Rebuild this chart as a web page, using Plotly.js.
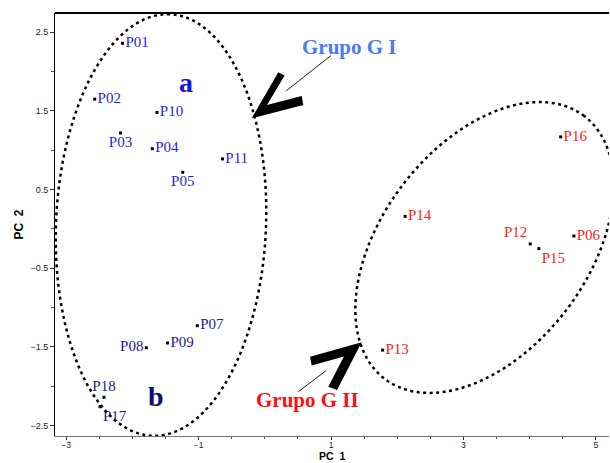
<!DOCTYPE html>
<html><head><meta charset="utf-8">
<script src="https://cdn.plot.ly/plotly-3.0.1.min.js"></script>
<style>html,body{margin:0;padding:0;background:#fff}</style>
</head><body><div id="chart" style="width:610px;height:463px"></div>
<script>
// ---- data ----
const labelsA = ['P01','P02','P10','P03','P04','P05','P11'];
const pc1A = [-2.15,-2.57,-1.63,-2.18,-1.70,-1.24,-0.64];
const pc2A = [2.36,1.65,1.48,1.22,1.02,0.72,0.89];
const labelsB = ['P07','P09','P08','P18','P17'];
const pc1B = [-1.02,-1.47,-1.79,-2.43,-2.49];
const pc2B = [-1.23,-1.45,-1.51,-2.14,-2.26];
const labelsII = ['P16','P14','P12','P15','P06','P13'];
const pc1II = [4.47,2.12,4.01,4.14,4.67,1.78];
const pc2II = [1.17,0.16,-0.19,-0.25,-0.09,-1.54];
const xTickVals = [-3,-1,1,3,5];
const xTickText = ['\u22123','\u22121','1','3','5'];
const yTickVals = [2.5,1.5,0.5,-0.5,-1.5,-2.5];
const yTickText = ['2.5','1.5','0.5','\u22120.5','\u22121.5','\u22122.5'];
const xTitle = 'PC\u00a0\u00a01', yTitle = 'PC\u00a0\u00a02';

// ---- styling ----
const labelPos = {P01:'middle right',P02:'middle right',P10:'middle right',P03:'bottom center',
  P04:'middle right',P05:'bottom center',P11:'middle right',P07:'middle right',P09:'middle right',
  P08:'middle left',P18:'top center',P17:'bottom right',P16:'middle right',P14:'middle right',
  P12:'top left',P15:'bottom right',P06:'middle right',P13:'middle right'};
const SERIF = 'Liberation Serif, Times New Roman, serif';
const SANS = 'Liberation Sans, Arial, sans-serif';
const PL=55, PT=13, PW=554, PH=423;
const xr=[-3.17,5.20], yr=[-2.632,2.745];
function p2d(px,py){ return [xr[0]+(px-PL)/PW*(xr[1]-xr[0]), yr[1]-(py-PT)/PH*(yr[1]-yr[0])]; }
function polyPath(pts, close){
  return pts.map((p,i)=>{const d=p2d(p[0],p[1]);return (i?'L':'M')+d[0].toFixed(4)+','+d[1].toFixed(4);}).join(' ')+(close?' Z':'');
}
function ellipsePath(cx,cy,a,b,th){
  const t0=th*Math.PI/180, pts=[];
  for(let i=0;i<=180;i++){const t=i/180*2*Math.PI;const ux=a*Math.cos(t),uy=b*Math.sin(t);
    pts.push([cx+ux*Math.cos(t0)-uy*Math.sin(t0), cy-(ux*Math.sin(t0)+uy*Math.cos(t0))]);}
  return polyPath(pts,true);
}
function trace(lbls,xs,ys,color){
  return {type:'scatter',mode:'markers+text',x:xs,y:ys,text:lbls,
    textposition:lbls.map(l=>labelPos[l]),
    marker:{symbol:'square',size:3,color:'#000'},
    textfont:{family:SERIF,size:15,color:color},cliponaxis:false,hoverinfo:'skip',showlegend:false};
}
const data=[trace(labelsA,pc1A,pc2A,'#1f1fe6'),trace(labelsB,pc1B,pc2B,'#22228c'),trace(labelsII,pc1II,pc2II,'#ff2020')];

const dotLine={color:'#000',width:2.5,dash:'3px,3.5px'};
const shapes=[
  {type:'path',xref:'x',yref:'y',path:ellipsePath(161,225,211,105,87.6),line:dotLine},
  {type:'path',xref:'x',yref:'y',path:ellipsePath(484.5,247.5,165,103,52.8),line:dotLine},
  {type:'path',xref:'x',yref:'y',path:polyPath([[251.7,118.3],[278.3,72.3],[284.6,75.5],[267,105],[301.7,96],[303.3,105]],true),fillcolor:'#000',line:{width:0}},
  {type:'path',xref:'x',yref:'y',path:polyPath([[361.7,342.3],[310,356.7],[311.7,365.5],[343.9,356.5],[328.3,386.7],[337,390]],true),fillcolor:'#000',line:{width:0}},
  {type:'path',xref:'x',yref:'y',path:polyPath([[286,91],[330.7,55.7]],false),line:{color:'#222',width:1}},
  {type:'path',xref:'x',yref:'y',path:polyPath([[326,370.7],[298.3,391.7]],false),line:{color:'#222',width:1}},
  {type:'line',xref:'paper',yref:'paper',x0:0,x1:1,y0:1,y1:1,line:{color:'#000',width:2}}
];
function ann(px,py,text,size,color){
  const d=p2d(px,py);
  return {x:d[0],y:d[1],xref:'x',yref:'y',text:text,showarrow:false,xanchor:'center',yanchor:'middle',
    font:{family:SERIF,size:size,color:color,weight:'bold'}};
}
const layout={
  width:610,height:463,margin:{l:PL,r:610-PL-PW,t:PT,b:463-PT-PH},
  paper_bgcolor:'#fff',plot_bgcolor:'#fff',showlegend:false,
  xaxis:{range:xr,showgrid:false,zeroline:false,showline:true,linecolor:'#777',linewidth:1,
    tickmode:'array',tickvals:xTickVals,ticktext:xTickText,ticks:'outside',ticklen:3,tickcolor:'#333',
    ticklabelstandoff:-2,
    minor:{tickmode:'linear',tick0:0,dtick:0.5,ticks:'outside',ticklen:2,tickcolor:'#555',showgrid:false},
    tickfont:{family:SANS,size:8.5,color:'#222'},automargin:false},
  yaxis:{range:yr,showgrid:false,zeroline:false,showline:true,linecolor:'#000',linewidth:1,
    tickmode:'array',tickvals:yTickVals,ticktext:yTickText,ticks:'outside',ticklen:4,tickcolor:'#333',
    minor:{tickmode:'linear',tick0:0,dtick:0.5,ticks:'outside',ticklen:3,tickcolor:'#555',showgrid:false},
    tickfont:{family:SANS,size:9,color:'#222'},
    title:{text:yTitle,font:{family:SANS,size:12,color:'#000',weight:'bold'},standoff:4},automargin:false},
  shapes:shapes,
  annotations:[
    {text:xTitle,xref:'paper',yref:'paper',x:0.5,y:-(463-436)/PH,xanchor:'center',yanchor:'bottom',showarrow:false,
      borderpad:0,font:{family:SANS,size:10.5,color:'#000',weight:'bold'}},
    ann(349,47,'Grupo G I',21,'#4a7bf5'),
    ann(307,400,'Grupo G II',21,'#ff1010'),
    ann(186,82,'a',28,'#1515e0'),
    ann(156,396,'b',28,'#0a0a7a')
  ]
};
Plotly.newPlot('chart',data,layout,{displayModeBar:false,staticPlot:true});
</script></body></html>
